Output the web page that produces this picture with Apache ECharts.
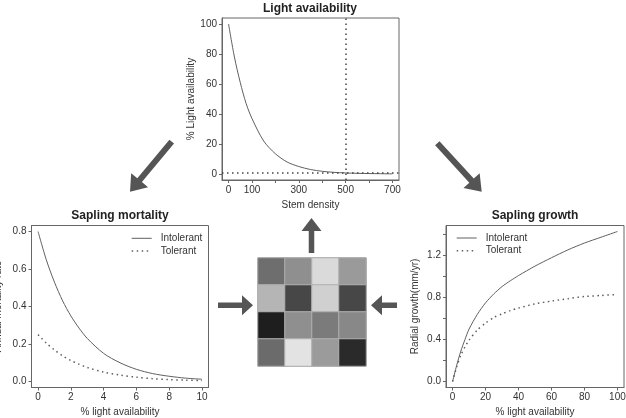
<!DOCTYPE html>
<html><head><meta charset="utf-8">
<script src="https://cdn.jsdelivr.net/npm/echarts@6/dist/echarts.min.js"></script>
<style>html,body{margin:0;padding:0;background:#fff}#c{width:626px;height:418px}</style>
</head><body><div id="c"></div>
<script>
// ---- Data ----
const stemDensity = [0, 25, 50, 75, 100, 150, 200, 250, 300, 350, 400, 450, 500, 550, 600, 650, 700];
const lightAvail = [100, 78, 61, 47, 37, 22, 13.5, 8, 5, 3, 1.8, 1.1, 0.7, 0.45, 0.3, 0.2, 0.1];
const lightRefLevel = 1;
const stemRefLevel = 500;
const stemTicks = [0, 100, 200, 300, 400, 500, 600, 700];
const stemLabels = [0, 100, 300, 500, 700];
const lightTicks = [0, 20, 40, 60, 80, 100];

const mortLight = [0, 0.5, 1, 1.5, 2, 2.5, 3, 4, 5, 6, 7, 8, 9, 10];
const mortIntolerant = [0.8, 0.65, 0.53, 0.43, 0.35, 0.285, 0.23, 0.15, 0.10, 0.065, 0.042, 0.028, 0.018, 0.012];
const mortTolerant = [0.25, 0.205, 0.168, 0.137, 0.112, 0.092, 0.075, 0.05, 0.034, 0.023, 0.015, 0.01, 0.007, 0.005];
const mortXTicks = [0, 2, 4, 6, 8, 10];
const mortYTicks = [0, 0.2, 0.4, 0.6, 0.8];

const growLight = [0, 2.5, 5, 7.5, 10, 15, 20, 25, 30, 35, 40, 50, 60, 70, 80, 90, 100];
const growIntolerant = [0, 0.155, 0.29, 0.40, 0.5, 0.64, 0.75, 0.835, 0.905, 0.96, 1.01, 1.10, 1.18, 1.255, 1.32, 1.375, 1.43];
const growTolerant = [0, 0.14, 0.25, 0.33, 0.395, 0.49, 0.557, 0.61, 0.645, 0.676, 0.70, 0.74, 0.767, 0.79, 0.81, 0.82, 0.83];
const growXTicks = [0, 20, 40, 60, 80, 100];
const growYTicks = [0, 0.2, 0.4, 0.6, 0.8, 1.0, 1.2, 1.4];
const growYLabels = [0, 0.4, 0.8, 1.2];

const legendNames = ['Intolerant', 'Tolerant'];

const gridCols = ['c1', 'c2', 'c3', 'c4'];
const gridRows = ['r1', 'r2', 'r3', 'r4'];
const gridGray = [
  [110, 143, 218, 154],
  [181, 71, 208, 71],
  [30, 143, 123, 136],
  [107, 227, 155, 42]
];

// ---- Chart ----
const FONT = '"Liberation Sans", Arial, Helvetica, sans-serif';
const TXT = '#333';
const BOX = '#666';
const LINE = '#606060';

function zip(xs, ys) { return xs.map((x, i) => [x, ys[i]]); }

function valAxis(gi, min, max, ticks, labels, fmt, name, gap) {
  return {
    type: 'value', gridIndex: gi, min: min, max: max,
    name: name, nameLocation: 'middle', nameGap: gap,
    nameTextStyle: { fontSize: 10, color: TXT, fontFamily: FONT },
    axisLine: { show: true, onZero: false, lineStyle: { color: BOX, width: 1 } },
    axisTick: { show: true, inside: false, length: 3, customValues: ticks, lineStyle: { color: BOX } },
    axisLabel: { show: true, customValues: labels, margin: 5, fontSize: 10, color: TXT, fontFamily: FONT, formatter: fmt },
    splitLine: { show: false }
  };
}
const fInt = v => String(Math.round(v));
const f1 = v => Number(v).toFixed(1);

const heatData = [];
gridGray.forEach((row, r) => row.forEach((g, c) => heatData.push([c, r, g])));

const DOT = [1.5, 3.5];
const solid = { color: LINE, width: 1, type: 'solid' };
const dotted = { color: LINE, width: 1.5, type: DOT };

function arrowPts(x1, y1, x2, y2, sw, hw, hl) {
  const dx = x2 - x1, dy = y2 - y1, L = Math.hypot(dx, dy), ux = dx / L, uy = dy / L, px = -uy, py = ux;
  const bx = x2 - ux * hl, by = y2 - uy * hl;
  return [[x1 + px * sw / 2, y1 + py * sw / 2], [bx + px * sw / 2, by + py * sw / 2], [bx + px * hw / 2, by + py * hw / 2],
    [x2, y2], [bx - px * hw / 2, by - py * hw / 2], [bx - px * sw / 2, by - py * sw / 2], [x1 - px * sw / 2, y1 - py * sw / 2]];
}
const ARW = '#555';
function arrow(x1, y1, x2, y2, sw, hw, hl) {
  return { type: 'polygon', shape: { points: arrowPts(x1, y1, x2, y2, sw, hw, hl) }, style: { fill: ARW } };
}
function title(text, x, y) {
  return { type: 'text', x: x, y: y, style: { text: text, font: 'bold 12px ' + FONT, fill: '#222', align: 'center', verticalAlign: 'middle' } };
}
function legendBlock(x, y) {
  const els = [];
  legendNames.forEach((nm, i) => {
    const yy = y + i * 12.7;
    els.push({ type: 'line', shape: { x1: x, y1: yy, x2: x + 20, y2: yy },
      style: i === 0 ? { stroke: LINE, lineWidth: 1 } : { stroke: LINE, lineWidth: 1.5, lineDash: DOT } });
    els.push({ type: 'text', x: x + 29, y: yy, style: { text: nm, font: '10px ' + FONT, fill: TXT, align: 'left', verticalAlign: 'middle' } });
  });
  return els;
}
const gridBase = { show: true, borderColor: BOX, borderWidth: 1, containLabel: false, outerBoundsMode: 'none' };

const option = {
  backgroundColor: '#fff',
  animation: false,
  textStyle: { fontFamily: FONT },
  grid: [
    Object.assign({ left: 222, top: 18, width: 177, height: 162 }, gridBase),
    Object.assign({ left: 31.5, top: 225.5, width: 177, height: 162 }, gridBase),
    Object.assign({ left: 446, top: 225.5, width: 178, height: 162 }, gridBase),
    Object.assign({ left: 258, top: 258, width: 108, height: 108 }, gridBase, { borderColor: '#777' })
  ],
  xAxis: [
    valAxis(0, -28, 728, stemTicks, stemLabels, fInt, 'Stem density', 20),
    valAxis(1, -0.4, 10.4, mortXTicks, mortXTicks, fInt, '% light availability', 20),
    valAxis(2, -4, 104, growXTicks, growXTicks, fInt, '% light availability', 20),
    { type: 'category', gridIndex: 3, data: gridCols, show: false }
  ],
  yAxis: [
    valAxis(0, -4, 104, lightTicks, lightTicks, fInt, '% Light availability', 26),
    valAxis(1, -0.032, 0.832, mortYTicks, mortYTicks, f1, 'Annual mortality rate', 28),
    valAxis(2, -0.0572, 1.4872, growYTicks, growYLabels, f1, 'Radial growth(mm/yr)', 26),
    { type: 'category', gridIndex: 3, data: gridRows, show: false, inverse: true }
  ],
  visualMap: {
    show: false, type: 'continuous', seriesIndex: 5, min: 0, max: 255, dimension: 2,
    inRange: { color: ['#000000', '#ffffff'] }
  },
  series: [
    { type: 'line', name: 'Light', xAxisIndex: 0, yAxisIndex: 0, data: zip(stemDensity, lightAvail), showSymbol: false, smooth: 0.3,
      lineStyle: solid, silent: true,
      markLine: { silent: true, symbol: 'none', label: { show: false }, lineStyle: { color: '#444', width: 1.5, type: DOT },
        data: [{ yAxis: lightRefLevel }, { xAxis: stemRefLevel }] } },
    { type: 'line', name: 'Intolerant', xAxisIndex: 1, yAxisIndex: 1, data: zip(mortLight, mortIntolerant), showSymbol: false, smooth: 0.3, lineStyle: solid, itemStyle: { color: LINE } },
    { type: 'line', name: 'Tolerant', xAxisIndex: 1, yAxisIndex: 1, data: zip(mortLight, mortTolerant), showSymbol: false, smooth: 0.3, lineStyle: dotted, itemStyle: { color: LINE } },
    { type: 'line', name: 'Intolerant', xAxisIndex: 2, yAxisIndex: 2, data: zip(growLight, growIntolerant), showSymbol: false, smooth: 0.25, lineStyle: solid, itemStyle: { color: LINE } },
    { type: 'line', name: 'Tolerant', xAxisIndex: 2, yAxisIndex: 2, data: zip(growLight, growTolerant), showSymbol: false, smooth: 0.25, lineStyle: dotted, itemStyle: { color: LINE } },
    { type: 'heatmap', name: 'patches', xAxisIndex: 3, yAxisIndex: 3, data: heatData,
      itemStyle: { borderColor: '#b0b0b0', borderWidth: 1 }, emphasis: { disabled: true } }
  ],
  graphic: [
    title('Light availability', 310, 9),
    title('Sapling mortality', 120, 215.5),
    title('Sapling growth', 535, 215.5),
    arrow(311.5, 253, 311.5, 218, 5.5, 20, 13),
    arrow(218, 305.3, 253, 305.3, 5.5, 20, 11),
    arrow(397, 305.3, 371, 305.3, 5.5, 20, 11),
    arrow(171.7, 141.7, 130, 191.7, 6, 22, 15),
    arrow(437.3, 143.3, 481.7, 191.7, 6, 22, 15),
    { type: 'polyline', shape: { points: [[274.5, 269], [306.5, 269]] }, style: { stroke: '#222', lineWidth: 1.5 } },
    { type: 'polyline', shape: { points: [[301.5, 265.5], [306.5, 269], [301.5, 272.5]] }, style: { stroke: '#222', lineWidth: 1.5, fill: null } },
    { type: 'polyline', shape: { points: [[275, 275.5], [305, 275.5]] }, style: { stroke: '#222', lineWidth: 1.5 } },
    { type: 'polyline', shape: { points: [[280, 272], [275, 275.5], [280, 279]] }, style: { stroke: '#222', lineWidth: 1.5, fill: null } }
  ].concat(legendBlock(131.7, 238.3), legendBlock(456.7, 238))
};
const chart = echarts.init(document.getElementById('c'), null, { renderer: 'canvas' });
chart.setOption(option);
</script></body></html>
